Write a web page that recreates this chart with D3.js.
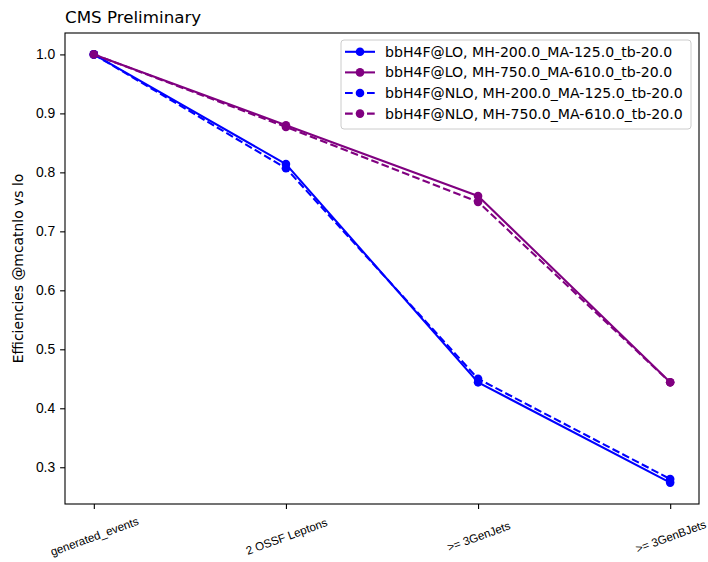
<!DOCTYPE html>
<html>
<head>
<meta charset="utf-8">
<script src="https://cdn.jsdelivr.net/npm/d3@7"></script>
<style>
  html, body { margin: 0; padding: 0; background: #fff; }
  svg { display: block; font-family: "DejaVu Sans", sans-serif; }
</style>
</head>
<body>
<svg id="chart" width="708" height="562"></svg>
<script>
// Selection steps on the x axis
const categories = ["generated_events", "2 OSSF Leptons", ">= 3GenJets", ">= 3GenBJets"];

// Efficiency per step for each sample
const loMH200 = [1.0, 0.814, 0.444, 0.274];
const loMH750 = [1.0, 0.880, 0.760, 0.444];
const nloMH200 = [1.0, 0.807, 0.450, 0.280];
const nloMH750 = [1.0, 0.877, 0.750, 0.444];

const seriesNames = [
  "bbH4F@LO, MH-200.0_MA-125.0_tb-20.0",
  "bbH4F@LO, MH-750.0_MA-610.0_tb-20.0",
  "bbH4F@NLO, MH-200.0_MA-125.0_tb-20.0",
  "bbH4F@NLO, MH-750.0_MA-610.0_tb-20.0"
];

const yTicks = [0.3, 0.4, 0.5, 0.6, 0.7, 0.8, 0.9, 1.0];

const series = [
  { name: seriesNames[0], values: loMH200, color: "#0000ff", dashed: false },
  { name: seriesNames[1], values: loMH750, color: "#800080", dashed: false },
  { name: seriesNames[2], values: nloMH200, color: "#0000ff", dashed: true },
  { name: seriesNames[3], values: nloMH750, color: "#800080", dashed: true }
];

const svg = d3.select("#chart");
const plot = { left: 65, right: 699, top: 33, bottom: 504 };

const x = d3.scalePoint()
  .domain(categories)
  .range([plot.left, plot.right])
  .padding(0.15);

// y extent with 5% margins on either side of the data range
const all = series.flatMap(s => s.values);
const lo = d3.min(all), hi = d3.max(all), span = hi - lo;
const y = d3.scaleLinear()
  .domain([lo - 0.05 * span, hi + 0.05 * span])
  .range([plot.bottom, plot.top]);

const dash = "7.7,3.3";
const lw = 2.08;

// Series lines and markers
const line = d3.line()
  .x((d, i) => x(categories[i]))
  .y(d => y(d));

series.forEach(s => {
  const g = svg.append("g");
  g.append("path")
    .datum(s.values)
    .attr("d", line)
    .attr("fill", "none")
    .attr("stroke", s.color)
    .attr("stroke-width", lw)
    .attr("stroke-linejoin", "round")
    .attr("stroke-dasharray", s.dashed ? dash : null);
  g.selectAll("circle")
    .data(s.values)
    .join("circle")
    .attr("cx", (d, i) => x(categories[i]))
    .attr("cy", d => y(d))
    .attr("r", 4.3)
    .attr("fill", s.color);
});

// Axes
const xAxis = d3.axisBottom(x).tickSize(4.9).tickPadding(4.9);
const gx = svg.append("g")
  .attr("transform", `translate(0,${plot.bottom})`)
  .call(xAxis);
gx.select(".domain").remove();
gx.selectAll(".tick line").attr("stroke", "#000").attr("stroke-width", 1.1);
gx.selectAll(".tick text")
  .attr("font-size", 11.6)
  .attr("fill", "#000")
  .attr("text-anchor", "middle")
  .attr("dominant-baseline", "central")
  .attr("y", 0)
  .attr("dy", 0)
  .attr("transform", "translate(0,32) rotate(-20)");

const yAxis = d3.axisLeft(y)
  .tickValues(yTicks)
  .tickFormat(d3.format(".1f"))
  .tickSize(4.9)
  .tickPadding(4.9);
const gy = svg.append("g")
  .attr("transform", `translate(${plot.left},0)`)
  .call(yAxis);
gy.select(".domain").remove();
gy.selectAll(".tick line").attr("stroke", "#000").attr("stroke-width", 1.1);
gy.selectAll(".tick text").attr("font-size", 13.9).attr("fill", "#000");

// Frame
svg.append("rect")
  .attr("x", plot.left)
  .attr("y", plot.top)
  .attr("width", plot.right - plot.left)
  .attr("height", plot.bottom - plot.top)
  .attr("fill", "none")
  .attr("stroke", "#000")
  .attr("stroke-width", 1.1);

// Title and axis label
svg.append("text")
  .attr("x", plot.left)
  .attr("y", 23.3)
  .attr("font-size", 16.7)
  .attr("fill", "#000")
  .text("CMS Preliminary");

svg.append("text")
  .attr("transform", `translate(22.5,${(plot.top + plot.bottom) / 2}) rotate(-90)`)
  .attr("text-anchor", "middle")
  .attr("font-size", 13.9)
  .attr("fill", "#000")
  .text("Efficiencies @mcatnlo vs lo");

// Legend
const legend = svg.append("g");
legend.append("rect")
  .attr("x", 341)
  .attr("y", 40)
  .attr("width", 350)
  .attr("height", 89)
  .attr("rx", 3)
  .attr("fill", "#fff")
  .attr("fill-opacity", 0.8)
  .attr("stroke", "#cccccc")
  .attr("stroke-width", 1);

series.forEach((s, i) => {
  const cy = 51.8 + i * 20.6;
  legend.append("line")
    .attr("x1", 345).attr("x2", 375)
    .attr("y1", cy).attr("y2", cy)
    .attr("stroke", s.color)
    .attr("stroke-width", lw)
    .attr("stroke-dasharray", s.dashed ? dash : null);
  legend.append("circle")
    .attr("cx", 360).attr("cy", cy).attr("r", 4.3)
    .attr("fill", s.color);
  legend.append("text")
    .attr("x", 385)
    .attr("y", cy)
    .attr("dy", "0.35em")
    .attr("font-size", 14.1)
    .attr("fill", "#000")
    .text(s.name);
});
</script>
</body>
</html>
